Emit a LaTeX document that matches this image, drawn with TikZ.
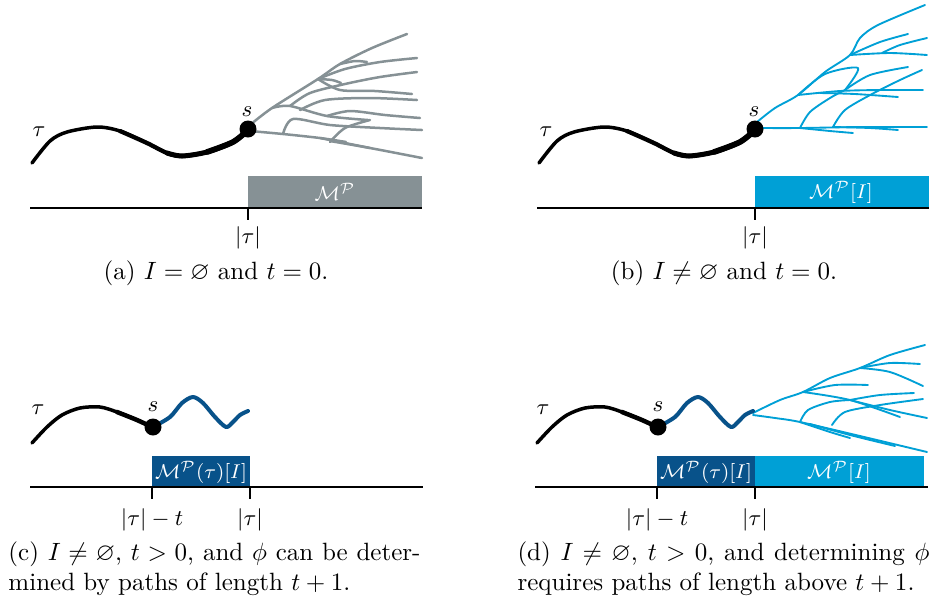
\documentclass[tikz,border=0pt]{standalone}
\usepackage{amsmath,amssymb}
\usepackage{tikz}

\definecolor{treegray}{RGB}{134,145,149}
\definecolor{lightblue}{RGB}{0,160,214}
\definecolor{darkblue}{RGB}{8,82,138}

\begin{document}
\begin{tikzpicture}[x=0.4pt, y=-0.4pt, line cap=round, line join=round,
  lbl/.style={font=\small, inner sep=1pt},
  boxlbl/.style={font=\footnotesize, text=white, inner sep=1pt},
  axisline/.style={line width=0.8pt, line cap=butt},
  dot/.style={circle, fill=black, inner sep=0pt, minimum size=6.8pt},
  graytree/.style={treegray, line width=1pt},
  bluetree/.style={lightblue, line width=0.75pt},
  wave/.style={darkblue, line width=1.6pt},
  capt/.style={font=\normalsize, inner sep=0pt}]
  \useasboundingbox (0,0) rectangle (936,603);

  % (a) I empty, t = 0: all continuations of s, in gray
  \fill[treegray] (248,176) rectangle (422,208);
  \node[boxlbl] (mp-a) at (335,192) {$\mathcal{M}^{\mathcal{P}}$};
  \draw[graytree] plot[smooth] coordinates {(250,125) (272,108) (318,79) (340,64) (372,48) (407,34)};
  \draw[graytree] plot[smooth] coordinates {(340,64) (355,61) (367,62)};
  \draw[graytree] plot[smooth] coordinates {(318,79) (345,69) (380,62) (417,58)};
  \draw[graytree] plot[smooth] coordinates {(318,79) (332,80) (341,83)};
  \draw[graytree] plot[smooth] coordinates {(318,79) (340,90) (375,91) (412,94)};
  \draw[graytree] plot[smooth] coordinates {(272,108) (290,106) (327,116) (368,120)};
  \draw[graytree] plot[smooth] coordinates {(290,106) (310,93) (345,84) (380,77) (417,72)};
  \draw[graytree] plot[smooth] coordinates {(300,110) (325,100) (370,98) (417,100)};
  \draw[graytree] plot[smooth] coordinates {(327,116) (350,111) (385,115) (420,118)};
  \draw[graytree] plot[smooth] coordinates {(250,131) (283,134) (320,138) (346,142)};
  \draw[graytree] plot[smooth] coordinates {(283,134) (293,119) (330,125) (380,128) (422,130)};
  \draw[graytree] plot[smooth] coordinates {(320,138) (345,143) (370,148)};
  \draw[graytree] plot[smooth] coordinates {(330,142) (345,128) (370,120)};
  \draw[graytree] plot[smooth] coordinates {(330,141) (370,148) (422,158)};

  % (b) I not empty, t = 0: the paths kept by I, in blue
  \fill[lightblue] (755,176) rectangle (929,208);
  \node[boxlbl] (mp-b) at (841,192) {$\mathcal{M}^{\mathcal{P}}[I]$};
  \draw[bluetree] plot[smooth] coordinates {(757,122) (775,108) (798,95) (825,72) (850,55) (860,38) (878,25) (925,5)};
  \draw[bluetree] plot[smooth] coordinates {(850,55) (880,42) (908,34)};
  \draw[bluetree] plot[smooth] coordinates {(850,55) (890,53) (927,55)};
  \draw[bluetree] plot[smooth] coordinates {(882,53) (900,45) (927,38)};
  \draw[bluetree] plot[smooth] coordinates {(798,95) (825,74) (858,68) (845,90)};
  \draw[bluetree] plot[smooth] coordinates {(845,90) (870,75) (908,67)};
  \draw[bluetree] plot[smooth] coordinates {(798,95) (840,91) (880,90) (923,90)};
  \draw[bluetree] plot[smooth] coordinates {(820,93) (855,94) (898,97)};
  \draw[bluetree] plot[smooth] coordinates {(758,128) (800,128) (860,127) (927,127)};
  \draw[bluetree] plot[smooth] coordinates {(800,128) (830,131) (853,133)};
  \draw[bluetree] plot[smooth] coordinates {(833,127) (870,128) (898,130)};
  \draw[bluetree] plot[smooth] coordinates {(800,128) (810,112) (830,98) (845,90)};
  \draw[bluetree] plot[smooth] coordinates {(833,127) (845,110) (872,94) (900,80) (922,70)};

  % common parts of (a) and (b)
  \foreach \dx/\p in {0/a,507/b} {
    \begin{scope}[shift={(\dx,0)}]
      \draw[axisline] (30,208) -- (422,208);
      \draw[axisline] (248,208) -- (248,220);
      \draw[line width=1.4pt] plot[smooth] coordinates {(32,163) (50,141) (67,132) (97,127) (120,131) (147,143) (167,153) (182,156) (207,152) (233,142) (248,130)};
      \draw[line width=1.7pt] plot[smooth] coordinates {(120,131) (147,143) (167,153) (182,156) (207,152) (233,142) (248,130)};
      \draw[line width=2pt] plot[smooth] coordinates {(167,153) (182,156) (207,152) (233,142) (248,130)};
      \draw[line width=2.3pt] plot[smooth] coordinates {(207,152) (233,142) (248,130)};
      \node[dot] (s-\p) at (248,129) {};
      \node[lbl] (tau-\p) at (39,132) {$\tau$};
      \node[lbl] (slab-\p) at (247,112) {$s$};
      \node[lbl] (len-\p) at (248,238) {$|\tau|$};
    \end{scope}
  }
  \node[capt] (cap-a) at (216,273) {(a) $I = \varnothing$ and $t = 0$.};
  \node[capt] (cap-b) at (724,273) {(b) $I \neq \varnothing$ and $t = 0$.};

  % (d) the part after |tau| branches again, in light blue
  \fill[lightblue] (755,456) rectangle (924,487);
  \node[boxlbl] (mp-d) at (839,472) {$\mathcal{M}^{\mathcal{P}}[I]$};
  \draw[bluetree] plot[smooth] coordinates {(753,413) (780,400) (803,392) (830,378) (860,368) (890,355) (925,345)};
  \draw[bluetree] plot[smooth] coordinates {(860,368) (890,363) (920,364)};
  \draw[bluetree] plot[smooth] coordinates {(860,368) (890,372) (923,386)};
  \draw[bluetree] plot[smooth] coordinates {(803,392) (835,385) (868,385)};
  \draw[bluetree] plot[smooth] coordinates {(803,392) (850,400) (900,417)};
  \draw[bluetree] plot[smooth] coordinates {(850,400) (880,395) (914,393)};
  \draw[bluetree] plot[smooth] coordinates {(850,400) (890,410) (927,418)};
  \draw[bluetree] plot[smooth] coordinates {(753,415) (775,418) (800,422) (860,436) (927,452)};
  \draw[bluetree] plot[smooth] coordinates {(800,422) (830,432) (850,438)};
  \draw[bluetree] plot[smooth] coordinates {(810,424) (850,435) (895,446)};
  \draw[bluetree] plot[smooth] coordinates {(800,422) (808,410) (830,402) (850,400)};
  \draw[bluetree] plot[smooth] coordinates {(832,425) (845,412) (880,405) (923,399)};

  % common parts of (c) and (d): tau up to s, then the t steps after s
  \foreach \dx/\p in {0/c,505/d} {
    \begin{scope}[shift={(\dx,0)}]
      \fill[darkblue] (152,456) rectangle (250,487);
      \node[boxlbl] (mpt-\p) at (201,472) {$\mathcal{M}^{\mathcal{P}}(\tau)[I]$};
      \draw[axisline] (30,487) -- (423,487);
      \draw[axisline] (152,487) -- (152,499);
      \draw[axisline] (250,487) -- (250,499);
      \draw[line width=1.4pt] plot[smooth] coordinates {(32,443) (47,427) (62,415) (80,408) (100,407) (117,412) (137,420) (152,427)};
      \draw[line width=1.8pt] plot[smooth] coordinates {(117,412) (137,420) (152,427)};
      \draw[wave] plot[smooth] coordinates {(153,427) (170,417) (182,403) (193,397) (203,403) (215,417) (226,427) (233,422) (240,415) (248,411)};
      \node[dot] (s-\p) at (153,427) {};
      \node[lbl] (tau-\p) at (38,410) {$\tau$};
      \node[lbl] (slab-\p) at (153,407) {$s$};
      \node[lbl] (lent-\p) at (152,520) {$|\tau| - t$};
      \node[lbl] (len-\p) at (250,520) {$|\tau|$};
    \end{scope}
  }
  \node[capt, anchor=north west, text width=164.8pt, align=justify] (cap-c) at (8,541)
    {(c) $I \neq \varnothing$, $t > 0$, and $\phi$ can be deter-\linebreak mined by paths of length $t+1$.};
  \node[capt, anchor=north west, text width=164.8pt, align=justify] (cap-d) at (517,541)
    {(d) $I \neq \varnothing$, $t > 0$, and determining $\phi$\linebreak requires paths of length above $t+1$.};
\end{tikzpicture}
\end{document}
